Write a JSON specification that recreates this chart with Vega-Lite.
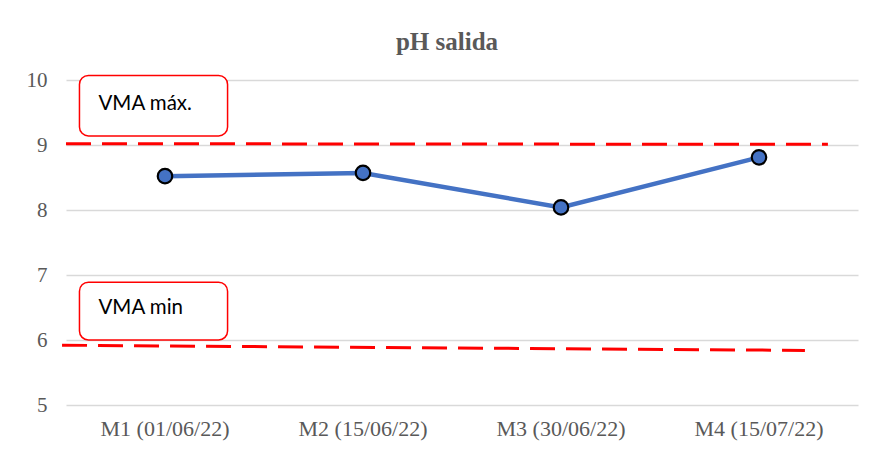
{
  "$schema": "https://vega.github.io/schema/vega-lite/v6.json",
  "width": 792,
  "height": 325,
  "autosize": "none",
  "padding": {"left": 66, "top": 80, "right": 16, "bottom": 48},
  "background": "white",
  "config": {"view": {"stroke": null}},
  "title": {
    "text": "pH salida",
    "font": "Liberation Serif",
    "fontSize": 25,
    "fontWeight": "bold",
    "color": "#595959",
    "anchor": "middle",
    "frame": "group",
    "dx": -15,
    "offset": 14
  },
  "datasets": {
    "ph": [
      {"muestra": "M1 (01/06/22)", "ph": 8.52},
      {"muestra": "M2 (15/06/22)", "ph": 8.57},
      {"muestra": "M3 (30/06/22)", "ph": 8.04},
      {"muestra": "M4 (15/07/22)", "ph": 8.81}
    ],
    "limites": [
      {"limite": "VMA máx.", "x0": 0.0, "x1": 0.962, "y0": 9.02, "y1": 9.01},
      {"limite": "VMA min", "x0": -0.005, "x1": 0.933, "y0": 5.92, "y1": 5.84}
    ],
    "etiquetas": [
      {"texto": "VMA máx.", "bx0": 0.017, "bx1": 0.204, "by0": 9.14, "by1": 10.07, "tx": 0.041, "ty": 9.63},
      {"texto": "VMA min", "bx0": 0.017, "bx1": 0.204, "by0": 6.0, "by1": 6.89, "tx": 0.041, "ty": 6.49}
    ]
  },
  "layer": [
    {
      "data": {"name": "ph"},
      "layer": [
        {
          "mark": {"type": "line", "color": "#4472C4", "strokeWidth": 4.5},
          "encoding": {
            "x": {
              "field": "muestra", "type": "nominal", "sort": null,
              "scale": {"type": "band", "paddingInner": 0, "paddingOuter": 0},
              "axis": {
                "title": null, "labelAngle": 0, "domain": false, "ticks": false,
                "labelFont": "Liberation Serif", "labelFontSize": 22,
                "labelColor": "#595959", "labelPadding": 13
              }
            },
            "y": {
              "field": "ph", "type": "quantitative",
              "scale": {"domain": [5, 10], "zero": false, "nice": false},
              "axis": {
                "title": null, "values": [5, 6, 7, 8, 9, 10], "format": "d", "domain": false, "ticks": false,
                "grid": true, "gridColor": "#d9d9d9", "gridWidth": 1.5,
                "labelFont": "Liberation Serif", "labelFontSize": 21,
                "labelColor": "#595959", "labelPadding": 19
              }
            }
          }
        },
        {
          "mark": {"type": "point", "filled": true, "fill": "#4472C4", "stroke": "#000000", "strokeWidth": 2.2, "size": 210, "opacity": 1},
          "encoding": {
            "x": {"field": "muestra", "type": "nominal", "sort": null},
            "y": {"field": "ph", "type": "quantitative"}
          }
        }
      ]
    },
    {
      "data": {"name": "limites"},
      "mark": {"type": "rule", "color": "#FF0000", "strokeWidth": 3, "strokeDash": [25, 11]},
      "encoding": {
        "x": {"field": "x0", "type": "quantitative", "scale": {"domain": [0, 1], "nice": false, "zero": false}, "axis": null},
        "x2": {"field": "x1"},
        "y": {"field": "y0", "type": "quantitative"},
        "y2": {"field": "y1"}
      }
    },
    {
      "data": {"name": "etiquetas"},
      "mark": {"type": "rect", "fill": "white", "stroke": "#FF0000", "strokeWidth": 1.5, "cornerRadius": 9},
      "encoding": {
        "x": {"field": "bx0", "type": "quantitative", "scale": {"domain": [0, 1], "nice": false, "zero": false}, "axis": null},
        "x2": {"field": "bx1"},
        "y": {"field": "by0", "type": "quantitative"},
        "y2": {"field": "by1"}
      }
    },
    {
      "data": {"name": "etiquetas"},
      "mark": {"type": "text", "font": "Lato", "fontSize": 20.5, "color": "#000000", "align": "left", "baseline": "middle"},
      "encoding": {
        "x": {"field": "tx", "type": "quantitative", "scale": {"domain": [0, 1], "nice": false, "zero": false}, "axis": null},
        "y": {"field": "ty", "type": "quantitative"},
        "text": {"field": "texto"}
      }
    }
  ],
  "resolve": {"scale": {"x": "independent"}}
}
